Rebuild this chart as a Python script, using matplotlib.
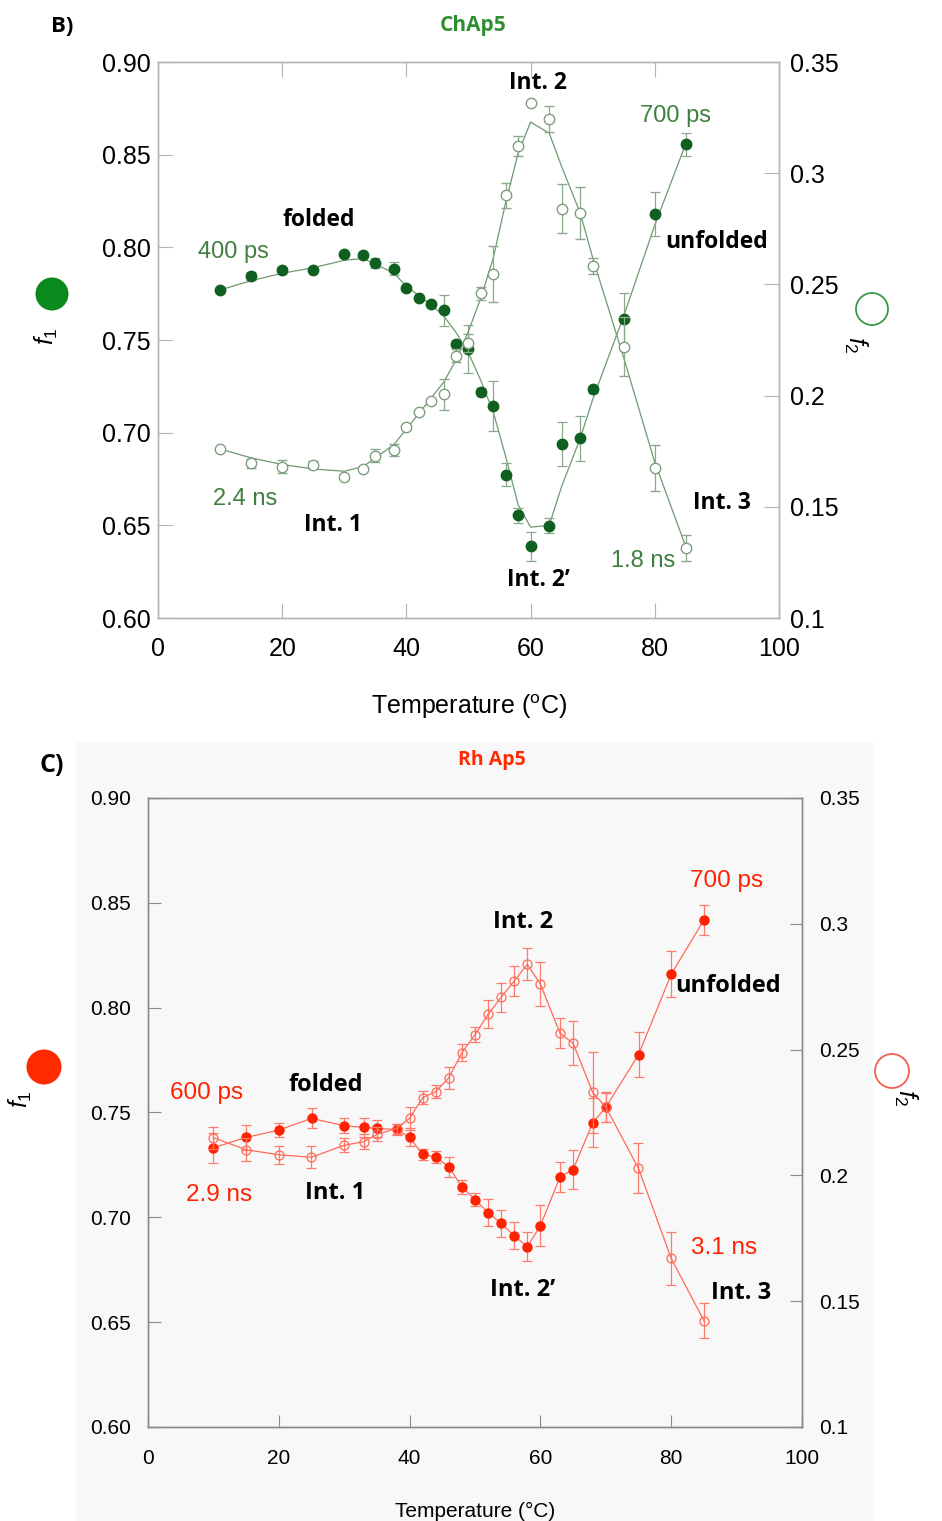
import matplotlib
matplotlib.use("Agg")
import matplotlib.pyplot as plt
from matplotlib.patches import Ellipse, Rectangle

plt.rcParams['font.family'] = ['Liberation Sans', 'DejaVu Sans']
plt.rcParams['mathtext.fontset'] = 'custom'
plt.rcParams['mathtext.rm'] = 'Liberation Sans'
plt.rcParams['mathtext.it'] = 'Liberation Sans:italic'

# temperatures (same grid for both proteins)
temp = [10, 15, 20, 25, 30, 33, 35, 38, 40, 42, 44, 46, 48, 50, 52, 54, 56, 58, 60, 63, 65, 68, 70, 75, 80, 85]

# ChAp5: f1 (filled, left axis) and f2 (open, right axis)
ch_f1 = [0.777, 0.7845, 0.7876, 0.7876, 0.7964, 0.796, 0.7914, 0.7885, 0.778, 0.7728, 0.7696, 0.766, 0.748,
         0.745, 0.722, 0.7144, 0.6773, 0.6555, 0.6386, 0.6497, 0.6937, 0.6969, 0.7233, 0.7613, 0.818, 0.8555]
ch_f1_err = [0, 0.002, 0.002, 0, 0, 0, 0.0027, 0.0036, 0, 0, 0, 0.0085, 0.002,
             0.013, 0.002, 0.0136, 0.0063, 0.004, 0.0078, 0.004, 0.0118, 0.012, 0.002, 0.0138, 0.0117, 0.006]
ch_f1_fit = [0.777, 0.782, 0.786, 0.789, 0.793, 0.794, 0.791, 0.786, 0.779, 0.774, 0.769, 0.763, 0.754,
             0.743, 0.728, 0.711, 0.687, 0.661, 0.649, 0.650, 0.671, 0.697, 0.718, 0.763, 0.812, 0.856]
ch_f2 = [0.1759, 0.1696, 0.168, 0.1688, 0.1635, 0.1669, 0.173, 0.1755, 0.186, 0.1926, 0.1976, 0.2005, 0.218,
         0.2235, 0.246, 0.2547, 0.290, 0.3124, 0.3315, 0.3242, 0.2841, 0.2822, 0.2584, 0.2219, 0.1673, 0.1313]
ch_f2_err = [0, 0.002, 0.003, 0.002, 0, 0, 0.003, 0.0028, 0, 0, 0, 0.0069, 0.003,
             0.004, 0.003, 0.0125, 0.0057, 0.0045, 0, 0.0058, 0.011, 0.0117, 0.0036, 0.0133, 0.0104, 0.0058]
ch_f2_fit = [0.176, 0.172, 0.169, 0.167, 0.166, 0.168, 0.172, 0.178, 0.185, 0.192, 0.199, 0.206, 0.216,
             0.229, 0.244, 0.262, 0.287, 0.309, 0.323, 0.318, 0.303, 0.282, 0.262, 0.217, 0.170, 0.132]

# Rh Ap5
rh_f1 = [0.7332, 0.7381, 0.7416, 0.7472, 0.7437, 0.7429, 0.7424, 0.7419, 0.7381, 0.730, 0.7287, 0.7241, 0.7145,
         0.7085, 0.7023, 0.6971, 0.6912, 0.686, 0.696, 0.7193, 0.7228, 0.7451, 0.7525, 0.7776, 0.8159, 0.8418]
rh_f1_err = [0.0072, 0.006, 0.0035, 0.0048, 0.0035, 0.0046, 0.0042, 0.0024, 0.0043, 0.0025, 0.003, 0.0048, 0.0035,
             0.0033, 0.0063, 0.0065, 0.0065, 0.0068, 0.0097, 0.007, 0.0095, 0.0117, 0.007, 0.0107, 0.011, 0.0073]
rh_f2 = [0.215, 0.2102, 0.2082, 0.2072, 0.212, 0.2134, 0.2163, 0.2186, 0.2227, 0.2309, 0.2333, 0.2388, 0.2488,
         0.2559, 0.264, 0.2708, 0.2773, 0.2839, 0.276, 0.2565, 0.2525, 0.233, 0.2272, 0.2028, 0.167, 0.1423]
rh_f2_err = [0.0044, 0.0046, 0.0036, 0.0043, 0.0027, 0.003, 0.0028, 0.002, 0.0046, 0.0026, 0.0025, 0.0043, 0.0033,
             0.003, 0.0056, 0.0058, 0.0058, 0.0064, 0.0087, 0.006, 0.0087, 0.016, 0.006, 0.0099, 0.0106, 0.0068]

left_ticks = [0.60, 0.65, 0.70, 0.75, 0.80, 0.85, 0.90]
right_ticks = [0.1, 0.15, 0.2, 0.25, 0.3, 0.35]
right_labels = ["0.1", "0.15", "0.2", "0.25", "0.3", "0.35"]
x_ticks = [0, 20, 40, 60, 80, 100]

W, H = 942, 1521
fig = plt.figure(figsize=(W / 100, H / 100), dpi=100)
fig.patch.set_facecolor('white')

# light grey backdrop of panel C
fig.add_artist(Rectangle((76 / W, 0), (873 - 76) / W, 1 - 742 / H, transform=fig.transFigure,
                         facecolor='#f8f8f8', edgecolor='none', zorder=0))


def fpos(px, py):
    return px / W, 1 - py / H


def setup(ax, ax2, spine_col, fs, ticklen, lpad, rpad, xpad, top_ticks):
    ax.set_xlim(0, 100)
    ax.set_ylim(0.60, 0.90)
    ax2.set_ylim(0.1, 0.35)
    ax.set_xticks(x_ticks)
    ax.set_yticks(left_ticks)
    ax.set_yticklabels([f"{v:.2f}" for v in left_ticks])
    ax2.set_yticks(right_ticks)
    ax2.set_yticklabels(right_labels)
    for a in (ax, ax2):
        for s in a.spines.values():
            s.set_color(spine_col)
            s.set_linewidth(1)
    ax.tick_params(axis='y', direction='in', length=ticklen, color=spine_col, labelsize=fs, pad=lpad)
    ax.tick_params(axis='x', direction='in', length=ticklen, color=spine_col, labelsize=fs, pad=xpad,
                   top=top_ticks)
    ax2.tick_params(axis='y', direction='in', length=ticklen, color=spine_col, labelsize=fs, pad=rpad)


bold_fam = ['Open Sans', 'DejaVu Sans']
thin_fam = ['Liberation Sans', 'DejaVu Sans']

# ---------------- panel B: ChAp5 ----------------
axB = fig.add_axes([158 / W, 1 - 618 / H, (779 - 158) / W, (618 - 62) / H])
axB.set_facecolor('white')
axB2 = axB.twinx()
setup(axB, axB2, '#b5b5b5', 18, 11, 5, 8, 14, True)

g_dark = '#0f5f20'
g_line = '#6f9a70'
g_err = '#8aa88a'
g_text = '#3f7f3f'

axB.plot(temp, ch_f1_fit, color=g_line, lw=0.9, zorder=2)
axB.errorbar(temp, ch_f1, yerr=ch_f1_err, fmt='o', ms=7.5, color=g_dark, mec=g_dark,
             ecolor=g_err, elinewidth=0.9, capsize=3.5, capthick=0.9, zorder=3)
axB2.plot(temp, ch_f2_fit, color=g_line, lw=0.9, zorder=2)
axB2.errorbar(temp, ch_f2, yerr=ch_f2_err, fmt='o', ms=7.5, mfc='white', mec='#7d9f7e', mew=1.0,
              ecolor=g_err, elinewidth=0.9, capsize=3.5, capthick=0.9, zorder=3)

axB.set_xlabel("Temperature ($^{\\rm o}$C)", fontsize=18, labelpad=22)

ann_b = [("folded", 25.9, 0.8147, 'k', 'bold'), ("400 ps", 12.1, 0.7975, g_text, 'normal'),
         ("2.4 ns", 14.0, 0.6642, g_text, 'normal'), ("Int. 1", 28.2, 0.650, 'k', 'bold'),
         ("Int. 2", 61.2, 0.8887, 'k', 'bold'), ("700 ps", 83.4, 0.8709, g_text, 'normal'),
         ("unfolded", 90.0, 0.8029, 'k', 'bold'), ("Int. 3", 90.8, 0.662, 'k', 'bold'),
         ("1.8 ns", 78.1, 0.6307, g_text, 'normal'), ("Int. 2\u2019", 61.2, 0.6205, 'k', 'bold')]
for txt, x, y, c, w in ann_b:
    axB.text(x, y, txt, color=c, fontsize=16.5 if w == 'bold' else 17, fontweight=w, ha='center',
             va='center', family=bold_fam if w == 'bold' else thin_fam, zorder=5)

fig.text(*fpos(62, 27), "B)", fontsize=16, fontweight='bold', ha='center', va='center', family=bold_fam)
fig.text(*fpos(473, 25), "ChAp5", fontsize=15, fontweight='bold', color='#2f8f2f', ha='center', va='center',
         family=bold_fam)

fig.add_artist(Ellipse(fpos(52, 294), 33 / W, 33 / H, transform=fig.transFigure,
                       facecolor='#0a8a1c', edgecolor='none'))
fig.text(*fpos(46, 336), "$f_{1}$", fontsize=18, rotation=90, ha='center', va='center')
fig.add_artist(Ellipse(fpos(872, 309), 32 / W, 32 / H, transform=fig.transFigure,
                       facecolor='white', edgecolor='#3a9a45', lw=1.3))
fig.text(*fpos(856, 345), "$f_{2}$", fontsize=18, rotation=-90, ha='center', va='center')

# ---------------- panel C: Rh Ap5 ----------------
axC = fig.add_axes([148 / W, 1 - 1427 / H, (802 - 148) / W, (1427 - 798) / H])
axC.set_facecolor('#f8f8f8')
axC2 = axC.twinx()
setup(axC, axC2, '#8a8a8a', 15, 9, 12, 12, 16, False)

r_dark = '#ff2200'
r_line = '#ff6a58'
r_err = '#ff7a6a'

axC.errorbar(temp, rh_f1, yerr=rh_f1_err, fmt='-o', ms=6.5, color=r_line, mfc=r_dark, mec=r_dark, lw=0.9,
             ecolor=r_err, elinewidth=0.9, capsize=3.5, capthick=0.9, zorder=3)
axC2.errorbar(temp, rh_f2, yerr=rh_f2_err, fmt='-o', ms=6.5, color=r_line, mfc='none', mec=r_line, mew=0.9,
              lw=0.9, ecolor=r_err, elinewidth=0.9, capsize=3.5, capthick=0.9, zorder=3)

axC.set_xlabel("Temperature (\u00b0C)", fontsize=15, labelpad=24)

ann_c = [("700 ps", 88.5, 0.8604, r_dark, 'normal'), ("Int. 2", 57.3, 0.8408, 'k', 'bold'),
         ("unfolded", 88.7, 0.8103, 'k', 'bold'), ("600 ps", 9.0, 0.7593, r_dark, 'normal'),
         ("folded", 27.2, 0.7631, 'k', 'bold'), ("2.9 ns", 10.9, 0.7106, r_dark, 'normal'),
         ("Int. 1", 28.6, 0.7115, 'k', 'bold'), ("3.1 ns", 88.1, 0.6853, r_dark, 'normal'),
         ("Int. 2\u2019", 57.3, 0.6653, 'k', 'bold'), ("Int. 3", 90.7, 0.6638, 'k', 'bold')]
for txt, x, y, c, w in ann_c:
    axC.text(x, y, txt, color=c, fontsize=17 if w == 'bold' else 17.5, fontweight=w, ha='center',
             va='center', family=bold_fam if w == 'bold' else thin_fam, zorder=5)

fig.text(*fpos(52, 765), "C)", fontsize=18, fontweight='bold', ha='center', va='center', family=bold_fam)
fig.text(*fpos(492, 760), "Rh Ap5", fontsize=14, fontweight='bold', color='#ff2a00', ha='center', va='center',
         family=bold_fam)

fig.add_artist(Ellipse(fpos(44, 1067), 35 / W, 35 / H, transform=fig.transFigure,
                       facecolor='#ff2a00', edgecolor='none'))
fig.text(*fpos(20, 1099), "$f_{1}$", fontsize=18, rotation=90, ha='center', va='center')
fig.add_artist(Ellipse(fpos(892, 1071), 34 / W, 34 / H, transform=fig.transFigure,
                       facecolor='white', edgecolor='#f06050', lw=1.3))
fig.text(*fpos(906, 1098), "$f_{2}$", fontsize=18, rotation=-90, ha='center', va='center')

fig.savefig("out.png", dpi=100)
